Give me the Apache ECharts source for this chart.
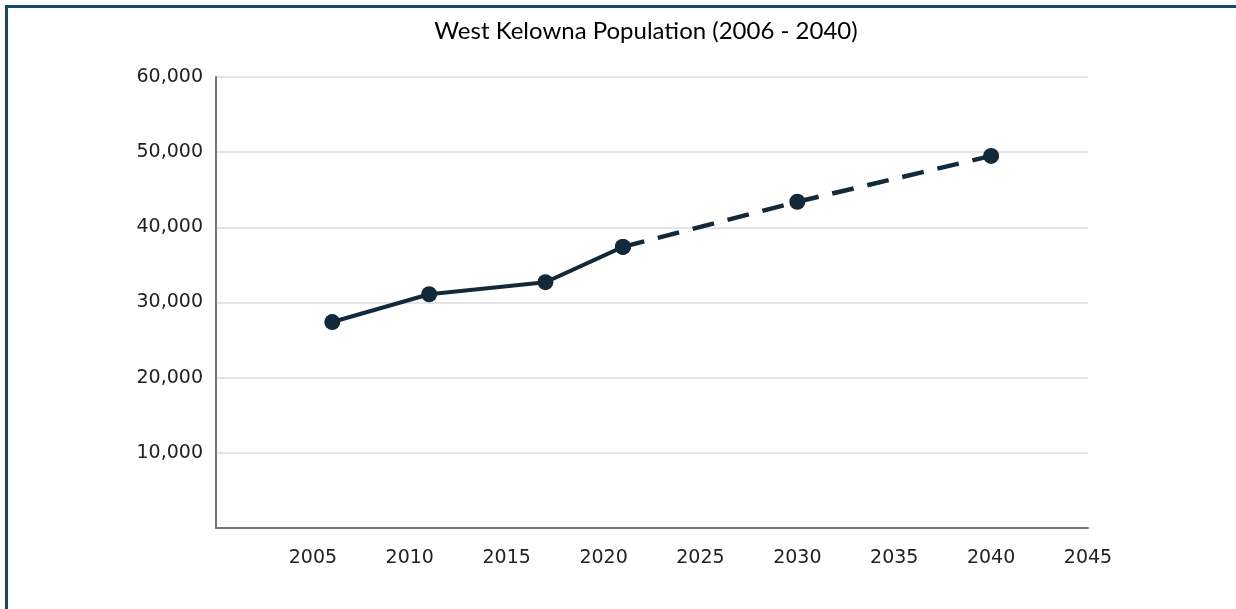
<!DOCTYPE html>
<html>
<head>
<meta charset="utf-8">
<script src="https://cdn.jsdelivr.net/npm/echarts@6/dist/echarts.min.js"></script>
<style>
  html, body { margin: 0; padding: 0; background: #fff; }
  #chart { width: 1236px; height: 609px; }
  .frame {
    position: absolute; left: 5px; top: 5px; width: 1240px; height: 620px;
    border-top: 3px solid #174866; border-left: 3px solid #174866;
    pointer-events: none;
  }
</style>
</head>
<body>
<div id="chart"></div>
<div class="frame"></div>
<script>
// census years (solid) and projections (dashed)
const actualYears = [2006, 2011, 2017, 2021];
const actualPop = [27400, 31100, 32700, 37400];
const projYears = [2021, 2030, 2040];
const projPop = [37400, 43400, 49500];

const lineColor = '#12293a';
const font = 'DejaVu Sans';

const chart = echarts.init(document.getElementById('chart'));
chart.setOption({
  animation: false,
  title: {
    text: 'West Kelowna Population (2006 - 2040)',
    left: 641,
    top: 14,
    textAlign: 'center',
    textStyle: { fontFamily: 'Lato', fontSize: 24, fontWeight: 'normal', color: '#000' }
  },
  grid: { left: 216, right: 148, top: 77, bottom: 81 },
  xAxis: {
    type: 'value',
    min: 2000,
    max: 2045,
    interval: 5,
    axisLine: { lineStyle: { color: '#777', width: 2 } },
    axisTick: { show: false },
    splitLine: { show: false },
    axisLabel: {
      margin: 21,
      fontFamily: font,
      fontSize: 19,
      color: '#222',
      formatter: v => (v === 2000 ? '' : String(v))
    }
  },
  yAxis: {
    type: 'value',
    min: 0,
    max: 60000,
    interval: 10000,
    axisLine: { show: true, lineStyle: { color: '#777', width: 2 } },
    axisTick: { show: false },
    splitLine: { lineStyle: { color: '#dcdcdc', width: 1.5 } },
    axisLabel: {
      margin: 13,
      fontFamily: font,
      fontSize: 19,
      color: '#222',
      formatter: v => (v === 0 ? '' : v.toLocaleString('en-US'))
    }
  },
  series: [
    {
      type: 'line',
      name: 'Actual',
      data: actualYears.map((y, i) => [y, actualPop[i]]),
      symbol: 'circle',
      symbolSize: 16,
      lineStyle: { color: lineColor, width: 4 },
      itemStyle: { color: lineColor }
    },
    {
      type: 'line',
      name: 'Projected',
      data: projYears.map((y, i) => [y, projPop[i]]),
      symbol: 'circle',
      symbolSize: 16,
      lineStyle: { color: lineColor, width: 4.5, type: [22, 14] },
      itemStyle: { color: lineColor }
    }
  ]
});
</script>
</body>
</html>
